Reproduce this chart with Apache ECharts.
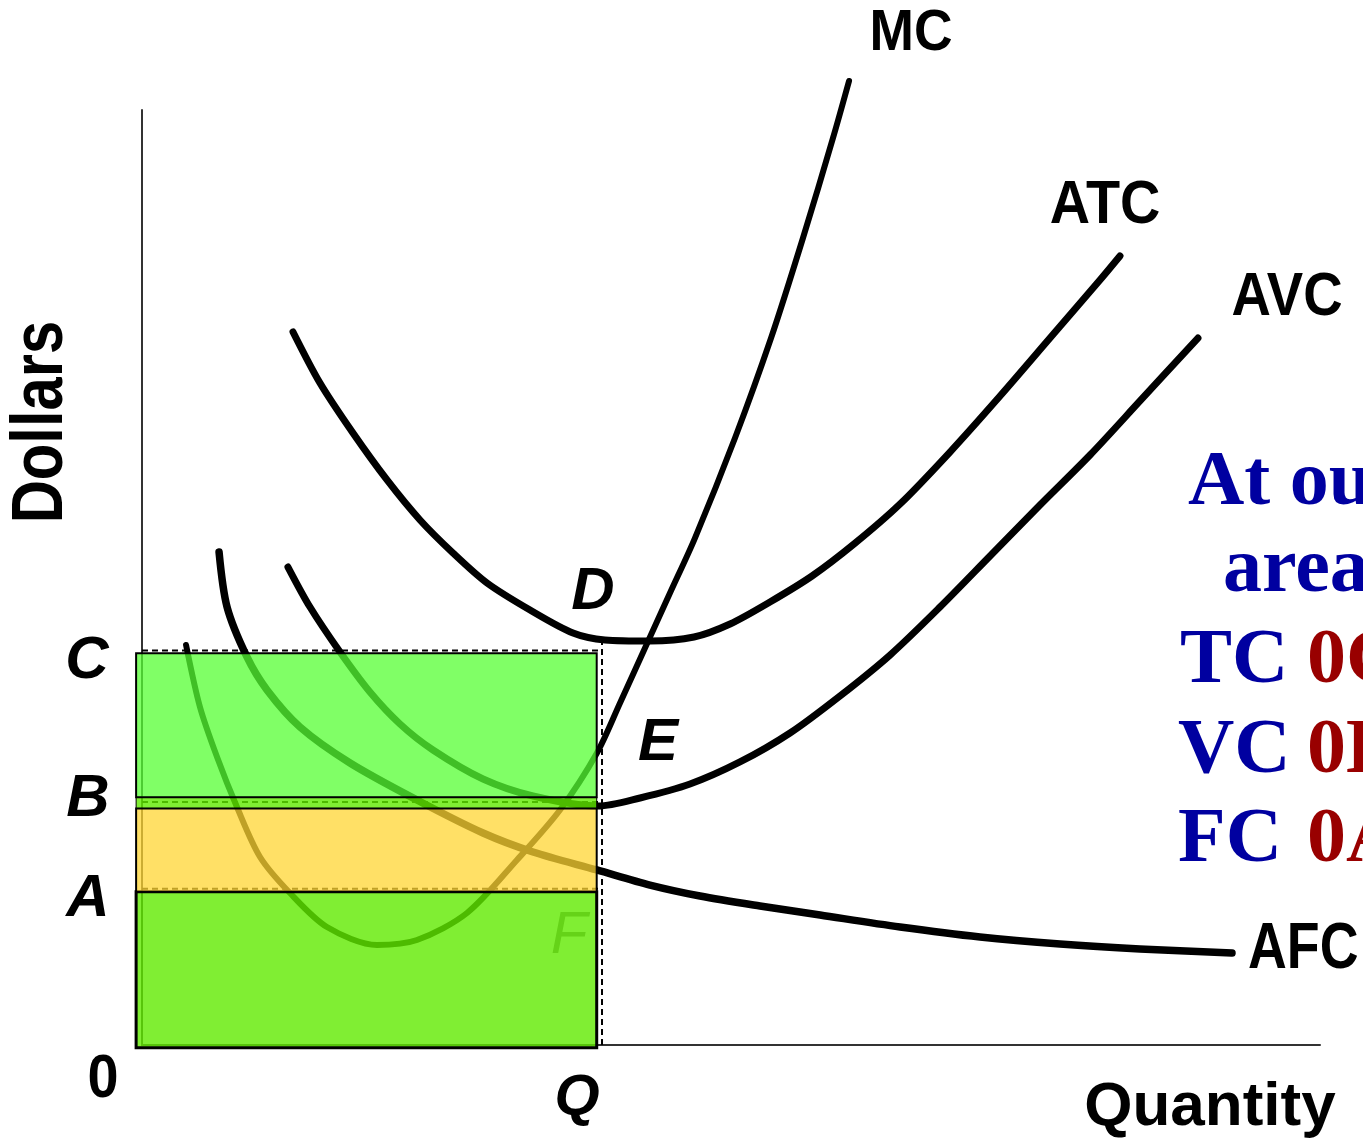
<!DOCTYPE html>
<html><head><meta charset="utf-8">
<script src="https://cdn.jsdelivr.net/npm/echarts@6/dist/echarts.min.js"></script>
<style>html,body{margin:0;padding:0;background:#fff}#c{width:1363px;height:1145px}</style>
</head><body><div id="c"></div><script>
// ---- data (quantity 0-100, dollars 0-100) ----
const mcPoints = [[3.74,42.78],[4.92,36.15],[6.37,30.80],[8.06,25.45],[10.02,20.11],[12.56,16.26],[15.70,12.62],[19.95,10.70],[23.34,11.23],[27.59,14.12],[31.83,19.79],[35.48,25.13],[38.62,31.23],[40.58,36.58],[42.70,42.46],[44.82,48.34],[46.94,54.22],[50.34,64.92],[53.40,75.61],[56.11,86.31],[58.66,97.01],[60.02,103.10]];
const atcPoints = [[12.82,76.26],[15.11,70.80],[17.91,65.45],[20.80,60.43],[23.60,56.15],[26.40,52.62],[29.29,49.41],[32.94,46.52],[36.59,44.06],[39.30,43.32],[43.12,43.21],[46.86,43.64],[49.92,45.03],[53.31,47.38],[56.88,50.16],[60.44,53.58],[64.35,57.86],[68.59,63.42],[72.84,69.41],[77.08,75.61],[81.32,81.82],[83.02,84.39]];
const avcPoints = [[12.39,51.12],[14.26,46.84],[16.81,42.03],[19.35,37.75],[21.90,34.33],[24.70,31.55],[28.95,28.45],[33.19,26.63],[38.71,25.56],[42.28,26.42],[46.52,27.91],[50.76,30.27],[55.01,33.37],[59.25,37.33],[63.50,41.71],[67.74,46.84],[71.99,52.30],[76.23,57.75],[80.48,63.10],[84.72,68.88],[89.64,75.61]];
const afcPoints = [[6.54,52.73],[7.22,46.84],[8.91,41.50],[10.61,37.97],[13.41,34.01],[17.66,30.16],[23.34,26.20],[28.95,22.67],[33.19,20.64],[38.62,18.72],[43.12,17.11],[47.37,15.94],[52.46,14.87],[57.56,13.90],[64.35,12.62],[71.14,11.55],[77.93,10.80],[84.72,10.27],[92.53,9.84]];
const outputQ = 39.05;
const costLevelNames = ['C', 'B', 'A'];
const costLevelValues = [42.2, 26.0, 16.7];
const atcAtQ = 43.3;
// cost rectangles: [x0, x1, y0, y1]  (fixed-cost base, thin strip, yellow band, top band)
const areaRects = [[-0.5, 38.6, -0.3, 16.4], [-0.5, 38.6, 25.3, 26.5], [-0.5, 38.6, 16.4, 25.3], [-0.5, 38.6, 26.5, 41.9]];

// ---- styles ----
const rectFills = ['rgba(96,234,0,0.8)', 'rgba(96,234,0,0.8)', 'rgba(255,214,51,0.75)', 'rgba(85,255,51,0.75)'];
const rectBorders = [3, 1, 2, 2];

const guideLines = [
  [0, costLevelValues[0], outputQ, costLevelValues[0]],
  [outputQ, 0, outputQ, atcAtQ],
  [0, costLevelValues[1], outputQ, costLevelValues[1]],
  [0, costLevelValues[2], outputQ, costLevelValues[2]]
];

const chart = echarts.init(document.getElementById('c'), null, {renderer: 'canvas'});

function curve(name, pts, w) {
  return {
    name, type: 'line', data: pts, showSymbol: false, symbol: 'none', smooth: 0.3,
    clip: false, z: 3, animation: false,
    lineStyle: {color: '#000', width: w, cap: 'round', join: 'round'}
  };
}

const sans = '"Liberation Sans", Arial, sans-serif';
const serif = '"Liberation Serif", "Times New Roman", serif';
function txt(text, x, y, font, opts) {
  opts = opts || {};
  return {
    type: 'text', x, y, z: opts.z == null ? 20 : opts.z, rotation: opts.rotation || 0,
    scaleX: opts.scaleX || 1, scaleY: opts.scaleY || 1,
    style: {
      text, font, fill: opts.fill || '#000',
      textAlign: opts.align || 'center', align: opts.align || 'center',
      textVerticalAlign: 'middle', verticalAlign: 'middle'
    }
  };
}

const blue = '#0000A0', red = '#990000';
const tFont = 'bold 78px ' + serif;

chart.setOption({
  animation: false,
  backgroundColor: '#fff',
  grid: {left: 142, right: 43, top: 110, bottom: 100},
  xAxis: {type: 'value', min: 0, max: 100, axisLine: {show: true, lineStyle: {color: '#333', width: 2}},
    axisTick: {show: false}, axisLabel: {show: false}, splitLine: {show: false}},
  yAxis: {type: 'value', min: 0, max: 100, axisLine: {show: true, lineStyle: {color: '#333', width: 2}},
    axisTick: {show: false}, axisLabel: {show: false}, splitLine: {show: false}},
  series: [
    curve('MC', mcPoints, 6),
    curve('ATC', atcPoints, 7),
    curve('AVC', avcPoints, 7),
    curve('AFC', afcPoints, 7.5),
    {
      type: 'custom', name: 'guides', z: 4, clip: false, data: guideLines,
      renderItem: function (params, api) {
        const a = api.coord([api.value(0), api.value(1)]);
        const b = api.coord([api.value(2), api.value(3)]);
        return {type: 'line', shape: {x1: a[0], y1: a[1], x2: b[0], y2: b[1]},
          style: {stroke: '#000', lineWidth: 2, lineDash: [6, 4]}};
      }
    },
    {
      type: 'custom', name: 'areas', z: 10, clip: false, data: areaRects,
      renderItem: function (params, api) {
        const p0 = api.coord([api.value(0), api.value(3)]);
        const p1 = api.coord([api.value(1), api.value(2)]);
        const i = params.dataIndex;
        return {type: 'rect', shape: {x: p0[0], y: p0[1], width: p1[0] - p0[0], height: p1[1] - p0[1]},
          style: {fill: rectFills[i], stroke: '#000', lineWidth: rectBorders[i]}};
      }
    }
  ],
  graphic: {elements: [
    txt('MC', 911, 34, 'bold 58px ' + sans, {scaleX: 0.92}),
    txt('ATC', 1105, 206, 'bold 62px ' + sans, {scaleX: 0.9}),
    txt('AVC', 1287, 298, 'bold 62px ' + sans, {scaleX: 0.88}),
    txt('AFC', 1248, 950, 'bold 64px ' + sans, {scaleX: 0.84, align: 'left'}),
    txt('Quantity', 1210, 1108, 'bold 62px ' + sans),
    txt('Dollars', 42, 422, 'bold 72px ' + sans, {scaleX: 0.83, rotation: Math.PI / 2}),
    txt('0', 103, 1080, 'bold 62px ' + sans, {scaleX: 0.9}),
    txt('Q', 577, 1099, 'italic bold 58px ' + sans),
    txt(costLevelNames[0], 87, 661, 'italic bold 60px ' + sans),
    txt(costLevelNames[1], 88, 799, 'italic bold 60px ' + sans),
    txt(costLevelNames[2], 88, 899, 'italic bold 60px ' + sans),
    txt('D', 593, 592, 'italic bold 60px ' + sans),
    txt('E', 658, 743, 'italic bold 60px ' + sans),
    txt('F', 569, 936, 'italic 60px ' + sans, {z: 5, fill: '#777'}),
    txt('At output Q', 1188, 484, tFont, {fill: blue, align: 'left'}),
    txt('area', 1223, 571, tFont, {fill: blue, align: 'left'}),
    txt('TC', 1180, 662, tFont, {fill: blue, align: 'left'}),
    txt('0CDQ', 1307, 662, tFont, {fill: red, align: 'left'}),
    txt('VC', 1178, 752, tFont, {fill: blue, align: 'left'}),
    txt('0BEQ', 1307, 752, tFont, {fill: red, align: 'left'}),
    txt('FC', 1178, 841, tFont, {fill: blue, align: 'left'}),
    txt('0AFQ', 1307, 841, tFont, {fill: red, align: 'left'})
  ]}
});
</script></body></html>
